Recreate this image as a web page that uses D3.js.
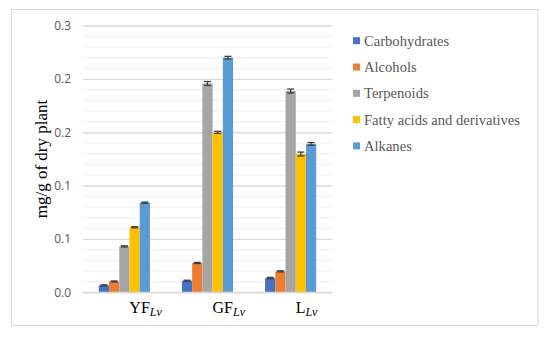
<!DOCTYPE html>
<html>
<head>
<meta charset="utf-8">
<script src="https://cdn.jsdelivr.net/npm/d3@7"></script>
<style>
  body { margin: 0; background: #fff; }
  svg { display: block; }
</style>
</head>
<body>
<svg id="chart" width="550" height="337"></svg>
<script>
// groups on the x axis (main text + italic subscript)
var categories = ["YF", "GF", "L"];
var subscripts = ["Lv", "Lv", "Lv"];
var seriesNames = ["Carbohydrates", "Alcohols", "Terpenoids", "Fatty acids and derivatives", "Alkanes"];
var colors = ["#4472C4", "#ED7D31", "#A5A5A5", "#FFC000", "#5B9BD5"];

// values per series, in category order
var carbohydrates = [0.0078, 0.013, 0.016];
var alcohols = [0.0122, 0.033, 0.0236];
var terpenoids = [0.0517, 0.235, 0.2265];
var fattyAcids = [0.0732, 0.180, 0.1556];
var alkanes = [0.1008, 0.264, 0.167];

// error (+/-) per series
var carbohydratesErr = [0.0006, 0.0006, 0.0008];
var alcoholsErr = [0.0006, 0.0006, 0.0006];
var terpenoidsErr = [0.0007, 0.0022, 0.0022];
var fattyAcidsErr = [0.0006, 0.0012, 0.0022];
var alkanesErr = [0.0007, 0.0015, 0.0015];

var tickValues = [0, 0.06, 0.12, 0.18, 0.24, 0.3];
var tickLabels = ["0.0", "0.1", "0.1", "0.2", "0.2", "0.3"];

var values = [carbohydrates, alcohols, terpenoids, fattyAcids, alkanes];
var errors = [carbohydratesErr, alcoholsErr, terpenoidsErr, fattyAcidsErr, alkanesErr];

var svg = d3.select("#chart");

// outer frame
svg.append("rect")
    .attr("x", 11.5).attr("y", 9.5)
    .attr("width", 526.5).attr("height", 316)
    .attr("fill", "#fff")
    .attr("stroke", "#D9D9D9");

var margin = {top: 25.7, left: 83, right: 332, bottom: 292.3};

var x0 = d3.scaleBand()
    .domain(categories)
    .range([margin.left, margin.right])
    .paddingInner(0.385)
    .paddingOuter(0.19);

var x1 = d3.scaleBand()
    .domain(d3.range(seriesNames.length))
    .range([0, x0.bandwidth()]);

var y = d3.scaleLinear()
    .domain([0, 0.3])
    .range([margin.bottom, margin.top]);

// minor gridlines
svg.append("g")
  .selectAll("line")
  .data(d3.range(0, 0.3001, 0.012))
  .enter().append("line")
    .attr("x1", margin.left).attr("x2", margin.right)
    .attr("y1", function(d) { return y(d); })
    .attr("y2", function(d) { return y(d); })
    .attr("stroke", "#EFEFEF")
    .attr("stroke-width", 1);

// major gridlines + labels via axis
var yAxis = svg.append("g")
    .attr("transform", "translate(" + margin.left + ",0)")
    .call(d3.axisLeft(y)
      .tickValues(tickValues)
      .tickFormat(function(d, i) { return tickLabels[i]; })
      .tickSize(-(margin.right - margin.left))
      .tickPadding(12));

yAxis.select(".domain").remove();
yAxis.selectAll(".tick line")
    .attr("stroke", "#D9D9D9")
    .attr("stroke-width", 1.2);
yAxis.selectAll(".tick text")
    .attr("fill", "#595959")
    .style("font-family", "'Open Sans', 'Liberation Sans', sans-serif")
    .style("font-size", "12px");

// bars
var groups = svg.append("g")
  .selectAll("g")
  .data(categories)
  .enter().append("g")
    .attr("transform", function(d) { return "translate(" + x0(d) + ",0)"; });

groups.selectAll("rect")
  .data(function(d, ci) { return values.map(function(s, si) { return {s: si, v: s[ci], e: errors[si][ci]}; }); })
  .enter().append("rect")
    .attr("x", function(d) { return x1(d.s); })
    .attr("y", function(d) { return y(d.v); })
    .attr("width", x1.bandwidth())
    .attr("height", function(d) { return y(0) - y(d.v); })
    .attr("fill", function(d) { return colors[d.s]; });

// error bars
var eb = groups.selectAll("g.err")
  .data(function(d, ci) { return values.map(function(s, si) { return {s: si, v: s[ci], e: errors[si][ci]}; }); })
  .enter().append("g")
    .attr("class", "err")
    .attr("stroke", "#404040")
    .attr("stroke-width", 1.3);

eb.append("line")
    .attr("x1", function(d) { return x1(d.s) + x1.bandwidth() / 2; })
    .attr("x2", function(d) { return x1(d.s) + x1.bandwidth() / 2; })
    .attr("y1", function(d) { return y(d.v - d.e); })
    .attr("y2", function(d) { return y(d.v + d.e); });
eb.append("line")
    .attr("x1", function(d) { return x1(d.s) + x1.bandwidth() / 2 - 3.5; })
    .attr("x2", function(d) { return x1(d.s) + x1.bandwidth() / 2 + 3.5; })
    .attr("y1", function(d) { return y(d.v + d.e); })
    .attr("y2", function(d) { return y(d.v + d.e); });
eb.append("line")
    .attr("x1", function(d) { return x1(d.s) + x1.bandwidth() / 2 - 3.5; })
    .attr("x2", function(d) { return x1(d.s) + x1.bandwidth() / 2 + 3.5; })
    .attr("y1", function(d) { return y(d.v - d.e); })
    .attr("y2", function(d) { return y(d.v - d.e); });

// baseline
svg.append("line")
    .attr("x1", margin.left).attr("x2", margin.right)
    .attr("y1", y(0)).attr("y2", y(0))
    .attr("stroke", "#D9D9D9")
    .attr("stroke-width", 1.2);

// category labels
var catLabels = svg.append("g")
  .selectAll("text")
  .data(categories)
  .enter().append("text")
    .attr("x", function(d) { return x0(d) + x0.bandwidth() / 2 + 5; })
    .attr("y", 313)
    .attr("fill", "#000")
    .style("font-family", "'Liberation Serif', 'DejaVu Serif', serif")
    .style("font-size", "16px");
catLabels.append("tspan").text(function(d) { return d; });
catLabels.append("tspan")
    .attr("dy", 3)
    .style("font-style", "italic")
    .style("font-size", "12px")
    .text(function(d, i) { return subscripts[i]; });

// y axis title
svg.append("text")
    .attr("transform", "translate(47,159) rotate(-90)")
    .attr("text-anchor", "middle")
    .attr("fill", "#000")
    .style("font-family", "'Liberation Serif', 'DejaVu Serif', serif")
    .style("font-size", "17px")
    .text("mg/g of dry plant");

// legend
var legend = svg.append("g")
  .selectAll("g")
  .data(seriesNames)
  .enter().append("g")
    .attr("transform", function(d, i) { return "translate(353," + (40.7 + i * 26.3) + ")"; });

legend.append("rect")
    .attr("x", 0).attr("y", -3.5)
    .attr("width", 7).attr("height", 7)
    .attr("fill", function(d, i) { return colors[i]; });

legend.append("text")
    .attr("x", 11)
    .attr("y", 0)
    .attr("dy", "0.35em")
    .attr("fill", "#595959")
    .style("font-family", "'Liberation Serif', 'DejaVu Serif', serif")
    .style("font-size", "14.6px")
    .text(function(d) { return d; });
</script>
</body>
</html>
